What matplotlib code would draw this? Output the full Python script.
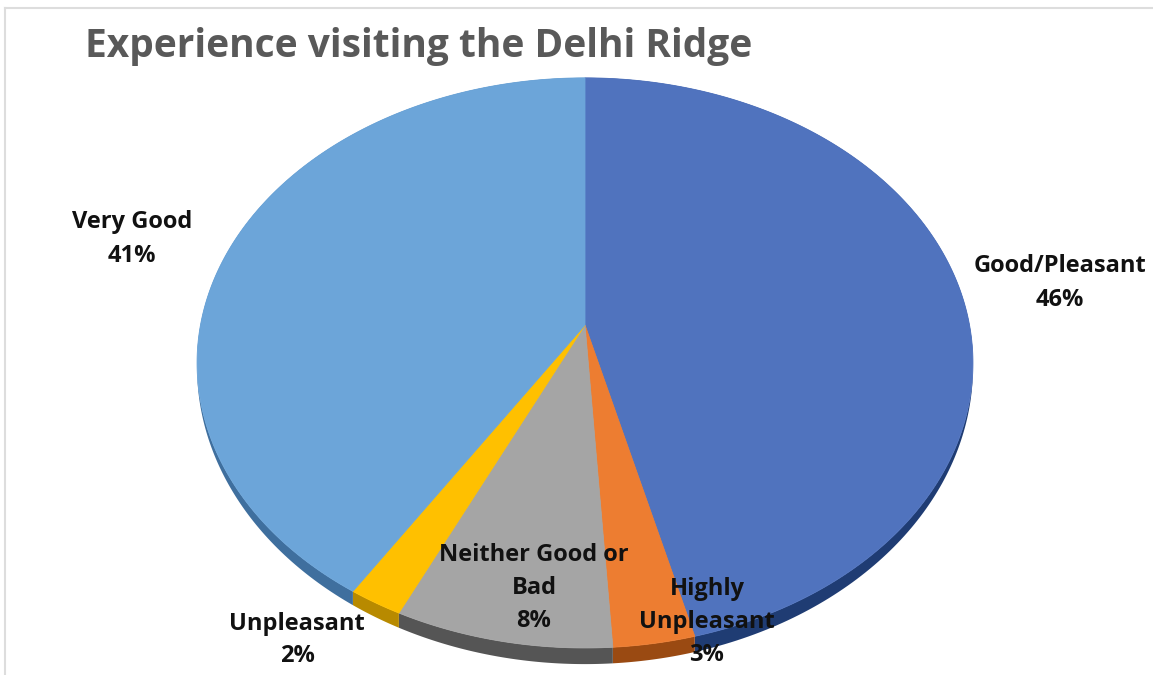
import matplotlib.pyplot as plt
import numpy as np

# slices clockwise from 12 o'clock
categories = ['Good/Pleasant', 'Highly Unpleasant', 'Neither Good or Bad', 'Unpleasant', 'Very Good']
shares = [46, 3, 8, 2, 41]
top_colors = ['#5073BE', '#ED7D31', '#A5A5A5', '#FFC000', '#6CA5D9']
side_colors = ['#1F3C73', '#9A4A12', '#555555', '#B88A00', '#3F6F9E']

# label text and where Excel put it (pixels)
label_text = ['Good/Pleasant\n46%', 'Highly\nUnpleasant\n3%', 'Neither Good or\nBad\n8%',
              'Unpleasant\n2%', 'Very Good\n41%']
label_pos = [(1060, 283), (707, 622), (534, 588), (297, 640), (132, 239)]

# fake 3d perspective of the pie
CX, CY = 585, 325
SX, CZ, K = 384.5, 280, 0.133


def project(t, drop=0.0):
    u, v = np.cos(t), np.sin(t)
    w = 1 + K * v
    return CX + SX * u / w, CY - CZ * v / w + drop / w


def wall_depth(t):
    # thin at the sides, thicker at the front
    return 3 + 11 * np.clip(-np.sin(t), 0, None)


fig = plt.figure(figsize=(11.53, 6.75), dpi=100)
ax = fig.add_axes([0, 0, 1, 1])
ax.set_xlim(0, 1153)
ax.set_ylim(675, 0)
ax.axis('off')

fracs = np.array(shares) / sum(shares)
ends = np.pi / 2 - 2 * np.pi * np.cumsum(fracs)
starts = np.concatenate([[np.pi / 2], ends[:-1]])

# side walls first
for a0, a1, c in zip(starts, ends, side_colors):
    t = np.linspace(a0, a1, 200)
    xt, yt = project(t)
    xb, yb = project(t, wall_depth(t))
    ax.fill(np.concatenate([xt, xb[::-1]]), np.concatenate([yt, yb[::-1]]),
            color=c, lw=0)

# top faces
for a0, a1, c in zip(starts, ends, top_colors):
    t = np.linspace(a0, a1, 300)
    xt, yt = project(t)
    ax.fill(np.concatenate([[CX], xt]), np.concatenate([[CY], yt]),
            color=c, lw=0.6, ec=c)

for txt, (x, y) in zip(label_text, label_pos):
    ax.text(x, y, txt, ha='center', va='center', fontsize=17, fontweight='bold',
            family='Open Sans', color='#111111', linespacing=1.5)

ax.text(85, 46, 'Experience visiting the Delhi Ridge', ha='left', va='center',
        fontsize=28, fontweight='bold', family='Open Sans', color='#595959')

# screenshot frame
ax.plot([5, 1153], [8, 8], color='#dddddd', lw=1.5)
ax.plot([5, 5], [8, 675], color='#dddddd', lw=1.5)

fig.savefig('out.png', dpi=100)
